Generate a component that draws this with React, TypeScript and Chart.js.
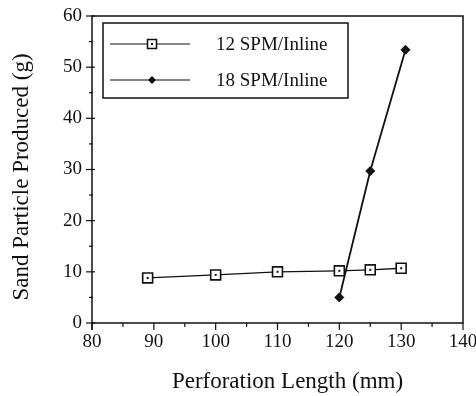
import React, { useEffect, useRef } from "react";
import { Chart, registerables } from "chart.js";

Chart.register(...registerables);

const seriesNames = ["12 SPM/Inline", "18 SPM/Inline"];
const spm12X = [89, 100, 110, 120, 125, 130];
const spm12Y = [8.8, 9.4, 10.0, 10.2, 10.4, 10.7];
const spm18X = [120, 125, 130.7];
const spm18Y = [5.0, 29.7, 53.4];
const xTicks = [80, 90, 100, 110, 120, 130, 140];
const yTicks = [0, 10, 20, 30, 40, 50, 60];
const xTitle = "Perforation Length (mm)";
const yTitle = "Sand Particle Produced (g)";

const FONT = "Liberation Serif";

const framePlugin = {
  id: "frameAndTicks",
  afterDraw(chart: any) {
    const { ctx, chartArea: a, scales } = chart;
    const xs = scales.x;
    const ys = scales.y;
    ctx.save();
    ctx.strokeStyle = "#111";
    ctx.lineWidth = 1.5;
    ctx.strokeRect(a.left, a.top, a.right - a.left, a.bottom - a.top);
    ctx.beginPath();
    ctx.moveTo(a.left, a.bottom);
    ctx.lineTo(a.left, a.bottom + 7);
    ctx.stroke();
    ctx.lineWidth = 1.2;
    for (let v = 80; v <= 140; v += 5) {
      const px = xs.getPixelForValue(v);
      const major = v % 10 === 0;
      ctx.beginPath();
      ctx.moveTo(px, a.bottom);
      ctx.lineTo(px, a.bottom + (major ? 7 : 4));
      ctx.stroke();
    }
    for (let v = 0; v <= 60; v += 5) {
      const py = ys.getPixelForValue(v);
      const major = v % 10 === 0;
      ctx.beginPath();
      ctx.moveTo(a.left - (major ? 6 : 3), py);
      ctx.lineTo(a.left + (major ? 3 : 1), py);
      ctx.stroke();
    }
    const meta = chart.getDatasetMeta(0);
    ctx.fillStyle = "#111";
    meta.data.forEach((pt: any) => {
      ctx.fillRect(pt.x - 1, pt.y - 1, 2, 2);
    });
    // axis titles
    ctx.fillStyle = "#111";
    ctx.font = `23px "${FONT}"`;
    ctx.textAlign = "center";
    ctx.textBaseline = "alphabetic";
    ctx.fillText(xTitle, (a.left + a.right) / 2 + 10, 388);
    ctx.save();
    ctx.translate(28, (a.top + a.bottom) / 2 + 7.5);
    ctx.rotate(-Math.PI / 2);
    ctx.fillText(yTitle, 0, 0);
    ctx.restore();
    // legend
    const lx = a.left + 11;
    const ly = a.top + 7;
    const lw = 245;
    const lh = 75;
    ctx.lineWidth = 1.5;
    ctx.fillStyle = "#fff";
    ctx.fillRect(lx, ly, lw, lh);
    ctx.strokeStyle = "#111";
    ctx.strokeRect(lx, ly, lw, lh);
    const rows = [ly + 21, ly + 57];
    rows.forEach((ry, i) => {
      ctx.lineWidth = 1.2;
      ctx.strokeStyle = "#111";
      ctx.beginPath();
      ctx.moveTo(lx + 7, ry);
      ctx.lineTo(lx + 87, ry);
      ctx.stroke();
      const mx = lx + 49;
      if (i === 0) {
        ctx.fillStyle = "#fff";
        ctx.fillRect(mx - 4.5, ry - 4.5, 9, 9);
        ctx.lineWidth = 1.5;
        ctx.strokeRect(mx - 4.5, ry - 4.5, 9, 9);
        ctx.fillStyle = "#111";
        ctx.fillRect(mx - 1, ry - 1, 2, 2);
      } else {
        ctx.fillStyle = "#111";
        ctx.beginPath();
        ctx.moveTo(mx, ry - 4);
        ctx.lineTo(mx + 4, ry);
        ctx.lineTo(mx, ry + 4);
        ctx.lineTo(mx - 4, ry);
        ctx.closePath();
        ctx.fill();
      }
      ctx.fillStyle = "#111";
      ctx.font = `19px "${FONT}"`;
      ctx.textBaseline = "middle";
      ctx.textAlign = "left";
      ctx.fillText(seriesNames[i], lx + 113, ry + 1);
    });
    ctx.restore();
  },
};

export default function App() {
  const ref = useRef<HTMLCanvasElement | null>(null);
  useEffect(() => {
    document.body.style.margin = "0";
    if (!ref.current) return;
    const chart = new Chart(ref.current, {
      type: "scatter",
      data: {
        datasets: [
          {
            label: seriesNames[0],
            data: spm12X.map((x, i) => ({ x, y: spm12Y[i] })),
            showLine: true,
            borderColor: "#111",
            borderWidth: 1.3,
            pointStyle: "rect",
            pointRadius: 7,
            pointBorderWidth: 1.6,
            pointBackgroundColor: "#fff",
            pointBorderColor: "#111",
          },
          {
            label: seriesNames[1],
            data: spm18X.map((x, i) => ({ x, y: spm18Y[i] })),
            showLine: true,
            borderColor: "#111",
            borderWidth: 1.8,
            pointStyle: "rectRot",
            pointRadius: 4.5,
            pointBorderWidth: 1,
            pointBackgroundColor: "#111",
            pointBorderColor: "#111",
          },
        ],
      },
      options: {
        responsive: false,
        animation: false,
        layout: { padding: { top: 16, right: 13, left: 0, bottom: 0 } },
        plugins: { legend: { display: false }, tooltip: { enabled: false } },
        scales: {
          x: {
            type: "linear",
            min: 80,
            max: 140,
            afterBuildTicks: (s: any) => {
              s.ticks = xTicks.map((v) => ({ value: v }));
            },
            ticks: {
              color: "#111",
              font: { family: FONT, size: 19 },
              padding: 8,
              maxRotation: 0,
              autoSkip: false,
            },
            grid: { display: false, drawTicks: false },
            border: { display: false },
            afterFit: (s: any) => {
              s.height = 73;
              s.paddingLeft = 0;
              s.paddingRight = 0;
            },
          },
          y: {
            type: "linear",
            min: 0,
            max: 60,
            afterBuildTicks: (s: any) => {
              s.ticks = yTicks.map((v) => ({ value: v }));
            },
            ticks: {
              color: "#111",
              font: { family: FONT, size: 19 },
              padding: 10,
              autoSkip: false,
            },
            grid: { display: false, drawTicks: false },
            border: { display: false },
            afterFit: (s: any) => {
              s.width = 92;
              s.paddingTop = 0;
              s.paddingBottom = 0;
            },
          },
        },
      },
      plugins: [framePlugin],
    });
    return () => chart.destroy();
  }, []);
  return <canvas ref={ref} width={476} height={396} style={{ display: "block" }} />;
}
